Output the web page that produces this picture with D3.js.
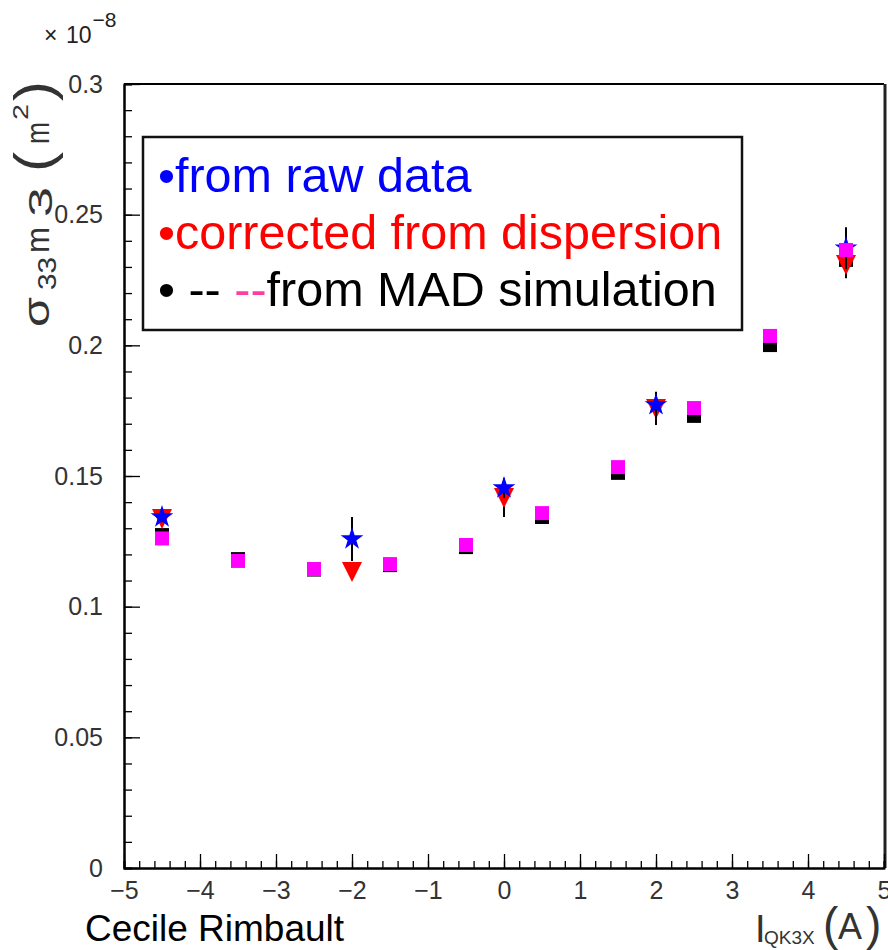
<!DOCTYPE html>
<html>
<head>
<meta charset="utf-8">
<script src="https://cdn.jsdelivr.net/npm/d3@7"></script>
<style>
  body { margin: 0; background: #fff; }
  svg { display: block; }
  text { font-family: "Liberation Sans", Arial, Helvetica, sans-serif; }
</style>
</head>
<body>
<svg id="chart" width="888" height="950"></svg>
<script>
// ---------------- data ----------------
const rawX      = [-4.5, -2, 0, 2, 4.5];
const rawY      = [0.1343, 0.1259, 0.1454, 0.1772, 0.2372];
const rawErr    = [0.0020, 0.0084, 0.0038, 0.0050, 0.0080];

const corrX     = [-4.5, -2, 0, 2, 4.5];
const corrY     = [0.1335, 0.1133, 0.1416, 0.1756, 0.2307];
const corrErr   = [0.0020, 0.0, 0.0073, 0.0061, 0.0050];

const madX      = [-4.5, -3.5, -2.5, -1.5, -0.5, 0.5, 1.5, 2.5, 3.5, 4.5];
const madBlackY = [0.1274, 0.1182, 0.1142, 0.1159, 0.1228, 0.1343, 0.1512, 0.1730, 0.2001, 0.2327];
const madPinkY  = [0.1261, 0.1175, 0.1144, 0.1163, 0.1236, 0.1358, 0.1534, 0.1760, 0.2036, 0.2365];

const xTickValues = [-5, -4, -3, -2, -1, 0, 1, 2, 3, 4, 5];
const yTickValues = [0, 0.05, 0.1, 0.15, 0.2, 0.25, 0.3];
const yTickLabels = ["0", "0.05", "0.1", "0.15", "0.2", "0.25", "0.3"];

// ---------------- layout ----------------
const svg = d3.select("#chart");
const X0 = 124, X1 = 884, YT = 84, YB = 868;
const x = d3.scaleLinear().domain([-5, 5]).range([X0, X1]);
const y = d3.scaleLinear().domain([0, 0.3]).range([YB, YT]);

// frame (top / right)
svg.append("line").attr("x1", X0).attr("x2", X1).attr("y1", YT).attr("y2", YT)
  .attr("stroke", "#000").attr("stroke-width", 2);
svg.append("line").attr("x1", X1 + 1).attr("x2", X1 + 1).attr("y1", YT).attr("y2", YB)
  .attr("stroke", "#222").attr("stroke-width", 3);

// minor ticks
const xMinor = d3.range(-5, 5.0001, 0.2);
const yMinor = d3.range(0, 0.30001, 0.01);

const gxMinor = svg.append("g").attr("transform", `translate(0,${YB})`)
  .call(d3.axisBottom(x).tickValues(xMinor).tickSize(-7).tickFormat(""));
const gyMinor = svg.append("g").attr("transform", `translate(${X0},0)`)
  .call(d3.axisLeft(y).tickValues(yMinor).tickSize(-8).tickFormat(""));

// major axes
const gx = svg.append("g").attr("transform", `translate(0,${YB})`)
  .call(d3.axisBottom(x).tickValues(xTickValues).tickSizeInner(-14).tickSizeOuter(0).tickPadding(13));
const gy = svg.append("g").attr("transform", `translate(${X0},0)`)
  .call(d3.axisLeft(y).tickValues(yTickValues).tickSizeInner(-16).tickSizeOuter(0).tickPadding(21)
    .tickFormat((d, i) => yTickLabels[i]));

[gxMinor, gyMinor, gx, gy].forEach(g => {
  g.select(".domain").attr("stroke", "#000").attr("stroke-width", 2);
  g.selectAll(".tick line").attr("stroke", "#000").attr("stroke-width", 1.3);
});
gx.selectAll(".tick text").attr("font-size", 25).attr("fill", "#333")
  .attr("font-family", "Liberation Sans, Arial, sans-serif");
gy.selectAll(".tick text").attr("font-size", 25).attr("fill", "#333")
  .attr("font-family", "Liberation Sans, Arial, sans-serif");

// exponent
const exp = svg.append("text").attr("x", 44).attr("y", 43).attr("font-size", 23).attr("fill", "#222");
exp.append("tspan").text("\u00d7");
exp.append("tspan").attr("x", 66).text("10");
exp.append("tspan").attr("font-size", 21).attr("dy", -16).attr("dx", 1).text("\u22128");

// ---------------- markers ----------------
const triDown = {
  draw(ctx, size) {
    const s = Math.sqrt(size) / 2;
    ctx.moveTo(-s, -s); ctx.lineTo(s, -s); ctx.lineTo(0, s); ctx.closePath();
  }
};
const squareSym = d3.symbol().type(d3.symbolSquare).size(196)();
const starSym = d3.symbol().type(d3.symbolStar).size(160)();
const triSym = d3.symbol().type(triDown).size(400)();

// black MAD squares
svg.append("g").selectAll("path").data(madX).join("path")
  .attr("d", squareSym)
  .attr("transform", (d, i) => `translate(${x(d)},${y(madBlackY[i])})`)
  .attr("fill", "#000");

// corrected: error bars + triangles
const corr = svg.append("g");
corr.selectAll("line").data(corrX).join("line")
  .attr("x1", d => x(d)).attr("x2", d => x(d))
  .attr("y1", (d, i) => y(corrY[i] - corrErr[i])).attr("y2", (d, i) => y(corrY[i] + corrErr[i]))
  .attr("stroke", "#000").attr("stroke-width", 2);
corr.selectAll("path").data(corrX).join("path")
  .attr("d", triSym)
  .attr("transform", (d, i) => `translate(${x(d)},${y(corrY[i])})`)
  .attr("fill", "#ff0000");

// raw: error bars + stars
const raw = svg.append("g");
raw.selectAll("line").data(rawX).join("line")
  .attr("x1", d => x(d)).attr("x2", d => x(d))
  .attr("y1", (d, i) => y(rawY[i] - rawErr[i])).attr("y2", (d, i) => y(rawY[i] + rawErr[i]))
  .attr("stroke", "#000").attr("stroke-width", 2);
raw.selectAll("path").data(rawX).join("path")
  .attr("d", starSym)
  .attr("transform", (d, i) => `translate(${x(d)},${y(rawY[i])})`)
  .attr("fill", "#0000ff");

// magenta MAD squares
svg.append("g").selectAll("path").data(madX).join("path")
  .attr("d", squareSym)
  .attr("transform", (d, i) => `translate(${x(d)},${y(madPinkY[i])})`)
  .attr("fill", "#ff00ff");

// ---------------- legend ----------------
svg.append("rect").attr("x", 143).attr("y", 137).attr("width", 599).attr("height", 193)
  .attr("fill", "#fff").attr("stroke", "#111").attr("stroke-width", 2.5);
const legendFont = 48.5;
svg.append("text").attr("x", 158).attr("y", 192).attr("font-size", legendFont)
  .attr("fill", "#0000ff").text("\u2022from raw data");
svg.append("text").attr("x", 158).attr("y", 249).attr("font-size", legendFont)
  .attr("fill", "#ff0000").text("\u2022corrected from dispersion");
const l3 = svg.append("text").attr("x", 158).attr("y", 306).attr("font-size", legendFont).attr("fill", "#000");
l3.append("tspan").text("\u2022 -- ");
l3.append("tspan").attr("fill", "#ff3fa0").text("--");
l3.append("tspan").text("from MAD simulation");

// ---------------- axis titles ----------------
const ytPieces = [
  // text, position along baseline, baseline offset, font size, stretched length
  ["\u03c3", 3, 1, 36, 30],
  ["33", 40, 8, 26, 33],
  ["m", 77, 1, 34, 26],
  ["3", 113, 4, 34, 30],
  ["(", 158, 4, 54, 20],
  ["m", 186, 1, 33, 22],
  ["2", 210, -20, 22, 16],
  [")", 229, 4, 54, 20]
];
const yt = svg.append("g").attr("transform", "translate(48,330) rotate(-90)").attr("fill", "#333");
ytPieces.forEach(p => {
  yt.append("text").attr("x", p[1]).attr("y", p[2]).attr("font-size", p[3])
    .attr("textLength", p[4]).attr("lengthAdjust", "spacingAndGlyphs").text(p[0]);
});

const xt = svg.append("g").attr("fill", "#333");
xt.append("text").attr("x", 755).attr("y", 942).attr("font-size", 38).text("I");
xt.append("text").attr("x", 764).attr("y", 944).attr("font-size", 19).text("QK3X");
xt.append("text").attr("x", 823).attr("y", 940).attr("font-size", 46).text("(");
xt.append("text").attr("x", 838).attr("y", 939).attr("font-size", 36).text("A");
xt.append("text").attr("x", 866).attr("y", 940).attr("font-size", 46).text(")");

svg.append("text").attr("x", 85).attr("y", 941).attr("font-size", 37).attr("fill", "#000")
  .text("Cecile Rimbault");
</script>
</body>
</html>
